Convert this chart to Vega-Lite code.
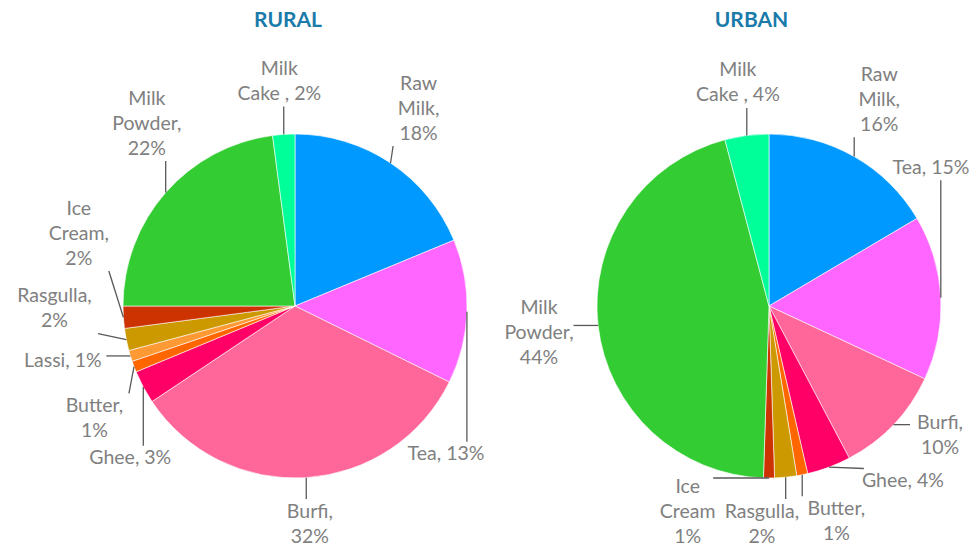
{
  "$schema": "https://vega.github.io/schema/vega-lite/v6.json",
  "padding": {"top": 10, "left": 0, "right": 0, "bottom": 0},
  "background": "white",
  "spacing": 0,
  "bounds": "flush",
  "config": {"view": {"stroke": null}, "title": {"font": "Lato", "fontSize": 21, "fontWeight": "bold", "color": "#1A7BAA", "anchor": "middle", "offset": 9}},
  "datasets": {
    "shares": [
      {"area": "Rural", "item": "Raw Milk", "pct": 18, "label": "Raw\nMilk,\n18%"},
      {"area": "Rural", "item": "Tea", "pct": 13, "label": "Tea, 13%"},
      {"area": "Rural", "item": "Burfi", "pct": 32, "label": "Burfi,\n32%"},
      {"area": "Rural", "item": "Ghee", "pct": 3, "label": "Ghee, 3%"},
      {"area": "Rural", "item": "Butter", "pct": 1, "label": "Butter,\n1%"},
      {"area": "Rural", "item": "Lassi", "pct": 1, "label": "Lassi, 1%"},
      {"area": "Rural", "item": "Rasgulla", "pct": 2, "label": "Rasgulla,\n2%"},
      {"area": "Rural", "item": "Ice Cream", "pct": 2, "label": "Ice\nCream,\n2%"},
      {"area": "Rural", "item": "Milk Powder", "pct": 22, "label": "Milk\nPowder,\n22%"},
      {"area": "Rural", "item": "Milk Cake", "pct": 2, "label": "Milk\nCake , 2%"},
      {"area": "Urban", "item": "Raw Milk", "pct": 16, "label": "Raw\nMilk,\n16%"},
      {"area": "Urban", "item": "Tea", "pct": 15, "label": "Tea, 15%"},
      {"area": "Urban", "item": "Burfi", "pct": 10, "label": "Burfi,\n10%"},
      {"area": "Urban", "item": "Ghee", "pct": 4, "label": "Ghee, 4%"},
      {"area": "Urban", "item": "Butter", "pct": 1, "label": "Butter,\n1%"},
      {"area": "Urban", "item": "Rasgulla", "pct": 2, "label": "Rasgulla,\n2%"},
      {"area": "Urban", "item": "Ice Cream", "pct": 1, "label": "Ice\nCream\n1%"},
      {"area": "Urban", "item": "Milk Powder", "pct": 44, "label": "Milk\nPowder,\n44%"},
      {"area": "Urban", "item": "Milk Cake", "pct": 4, "label": "Milk\nCake , 4%"}
    ]
  },
  "hconcat": [
    {
      "width": 484,
      "height": 510,
      "title": {"text": "RURAL", "dx": 46},
      "data": {"name": "shares"},
      "transform": [
        {"filter": "datum.area == 'Rural'"},
        {"window": [{"op": "row_number", "as": "idx"}]},
        {"joinaggregate": [{"op": "sum", "field": "pct", "as": "tot"}]},
        {"window": [{"op": "sum", "field": "pct", "as": "cum"}], "sort": [{"field": "idx"}], "frame": [null, 0]},
        {"calculate": "(datum.cum - datum.pct) / datum.tot", "as": "f0"},
        {"calculate": "datum.cum / datum.tot", "as": "f1"},
        {"calculate": "PI * (datum.f0 + datum.f1)", "as": "mid"},
        {"calculate": "split(datum.label, '\\n')", "as": "parts"},
        {"calculate": "length(datum.parts)", "as": "nl"},
        {"calculate": "datum.nl * 25", "as": "h"},
        {"calculate": "9 * max(length(datum.parts[0]), datum.nl > 1 ? length(datum.parts[1]) : 0, datum.nl > 2 ? length(datum.parts[2]) : 0)", "as": "w"},
        {"calculate": "abs(cos(datum.mid)) * datum.w * 0.9 + abs(sin(datum.mid)) * datum.h", "as": "ext"},
        {"window": [{"op": "lag", "field": "ext", "as": "pext"}], "sort": [{"field": "idx"}]},
        {"calculate": "datum.idx == 1 ? 0 : ((datum.pext + datum.ext) / 2 + 5) / 235", "as": "gap"},
        {"window": [{"op": "sum", "field": "gap", "as": "S"}], "sort": [{"field": "idx"}], "frame": [null, 0]},
        {"calculate": "datum.mid - datum.S", "as": "t"},
        {"window": [{"op": "max", "field": "t", "as": "fm"}], "sort": [{"field": "idx"}], "frame": [null, 0]},
        {"window": [{"op": "min", "field": "t", "as": "bm"}], "sort": [{"field": "idx"}], "frame": [0, null]},
        {"calculate": "datum.S + 0.55 * datum.fm + 0.45 * datum.bm", "as": "a"},
        {"calculate": "200 * sin(datum.a) + sin(datum.a) * datum.w / 2", "as": "bx"},
        {"calculate": "200 * cos(datum.a) + cos(datum.a) * datum.h / 2", "as": "by"},
        {"calculate": "clamp(datum.bx, -295 + datum.w / 2 + 2, 189 - datum.w / 2 - 2)", "as": "cx1"},
        {"calculate": "max(0, abs(datum.cx1) - datum.w / 2)", "as": "dxn"},
        {"calculate": "max(0, abs(datum.by) - datum.h / 2)", "as": "dyn"},
        {"calculate": "datum.dxn * datum.dxn + datum.dyn * datum.dyn < 178 * 178 ? (datum.by < 0 ? -1 : 1) * (sqrt(178 * 178 - datum.dxn * datum.dxn) + datum.h / 2) : datum.by", "as": "cy1"},
        {"calculate": "clamp(datum.cy1, -244 + datum.h / 2 + 1, 266 - datum.h / 2 - 1)", "as": "cy"},
        {"calculate": "max(0, abs(datum.cy) - datum.h / 2)", "as": "dyn2"},
        {"calculate": "datum.dxn * datum.dxn + datum.dyn2 * datum.dyn2 < 178 * 178 ? (datum.cx1 < 0 ? -1 : 1) * (sqrt(178 * 178 - datum.dyn2 * datum.dyn2) + datum.w / 2) : datum.cx1", "as": "cx"},
        {"calculate": "datum.cy + (datum.nl - 1) * 12.5", "as": "ty"},
        {"calculate": "172 * sin(datum.mid)", "as": "x0"},
        {"calculate": "172 * cos(datum.mid)", "as": "y0"},
        {"calculate": "clamp(datum.x0, datum.cx - datum.w / 2 - 3, datum.cx + datum.w / 2 + 3)", "as": "x1"},
        {"calculate": "clamp(datum.y0, datum.cy - datum.h / 2, datum.cy + datum.h / 2)", "as": "y1"}
      ],
      "layer": [
        {
          "mark": {"type": "arc", "outerRadius": 172, "stroke": "white", "strokeWidth": 0.6},
          "encoding": {
            "theta": {"field": "f0", "type": "quantitative", "scale": {"domain": [0, 1], "range": [0, 6.283185307]}},
            "theta2": {"field": "f1"},
            "color": {"field": "item", "type": "nominal", "legend": null,
              "scale": {"domain": ["Raw Milk", "Tea", "Burfi", "Ghee", "Butter", "Lassi", "Rasgulla", "Ice Cream", "Milk Powder", "Milk Cake"],
                        "range": ["#0099FF", "#FF66FF", "#FF6699", "#FF0066", "#FF6600", "#FF9933", "#CC9900", "#CC3300", "#33CC33", "#00FF99"]}},
            "x": {"datum": 0, "type": "quantitative", "scale": {"domain": [-295, 189], "nice": false, "zero": false}, "axis": null},
            "y": {"datum": 0, "type": "quantitative", "scale": {"domain": [-244, 266], "nice": false, "zero": false}, "axis": null}
          }
        },
        {
          "mark": {"type": "rule", "color": "#595959", "strokeWidth": 1.3},
          "encoding": {
            "x": {"field": "x0", "type": "quantitative"},
            "y": {"field": "y0", "type": "quantitative"},
            "x2": {"field": "x1"},
            "y2": {"field": "y1"}
          }
        },
        {
          "mark": {"type": "text", "font": "Lato", "fontSize": 19.5, "color": "#808080", "lineBreak": "\n", "lineHeight": 25, "align": "center", "baseline": "middle"},
          "encoding": {
            "x": {"field": "cx", "type": "quantitative"},
            "y": {"field": "ty", "type": "quantitative"},
            "text": {"field": "label"}
          }
        }
      ]
    },
    {
      "width": 485,
      "height": 510,
      "title": {"text": "URBAN", "dx": 25},
      "data": {"name": "shares"},
      "transform": [
        {"filter": "datum.area == 'Urban'"},
        {"window": [{"op": "row_number", "as": "idx"}]},
        {"joinaggregate": [{"op": "sum", "field": "pct", "as": "tot"}]},
        {"window": [{"op": "sum", "field": "pct", "as": "cum"}], "sort": [{"field": "idx"}], "frame": [null, 0]},
        {"calculate": "(datum.cum - datum.pct) / datum.tot", "as": "f0"},
        {"calculate": "datum.cum / datum.tot", "as": "f1"},
        {"calculate": "PI * (datum.f0 + datum.f1)", "as": "mid"},
        {"calculate": "split(datum.label, '\\n')", "as": "parts"},
        {"calculate": "length(datum.parts)", "as": "nl"},
        {"calculate": "datum.nl * 25", "as": "h"},
        {"calculate": "9 * max(length(datum.parts[0]), datum.nl > 1 ? length(datum.parts[1]) : 0, datum.nl > 2 ? length(datum.parts[2]) : 0)", "as": "w"},
        {"calculate": "abs(cos(datum.mid)) * datum.w * 0.9 + abs(sin(datum.mid)) * datum.h", "as": "ext"},
        {"window": [{"op": "lag", "field": "ext", "as": "pext"}], "sort": [{"field": "idx"}]},
        {"calculate": "datum.idx == 1 ? 0 : ((datum.pext + datum.ext) / 2 + 5) / 235", "as": "gap"},
        {"window": [{"op": "sum", "field": "gap", "as": "S"}], "sort": [{"field": "idx"}], "frame": [null, 0]},
        {"calculate": "datum.mid - datum.S", "as": "t"},
        {"window": [{"op": "max", "field": "t", "as": "fm"}], "sort": [{"field": "idx"}], "frame": [null, 0]},
        {"window": [{"op": "min", "field": "t", "as": "bm"}], "sort": [{"field": "idx"}], "frame": [0, null]},
        {"calculate": "datum.S + 0.55 * datum.fm + 0.45 * datum.bm", "as": "a"},
        {"calculate": "200 * sin(datum.a) + sin(datum.a) * datum.w / 2", "as": "bx"},
        {"calculate": "200 * cos(datum.a) + cos(datum.a) * datum.h / 2", "as": "by"},
        {"calculate": "clamp(datum.bx, -285 + datum.w / 2 + 2, 200 - datum.w / 2 - 2)", "as": "cx1"},
        {"calculate": "max(0, abs(datum.cx1) - datum.w / 2)", "as": "dxn"},
        {"calculate": "max(0, abs(datum.by) - datum.h / 2)", "as": "dyn"},
        {"calculate": "datum.dxn * datum.dxn + datum.dyn * datum.dyn < 178 * 178 ? (datum.by < 0 ? -1 : 1) * (sqrt(178 * 178 - datum.dxn * datum.dxn) + datum.h / 2) : datum.by", "as": "cy1"},
        {"calculate": "clamp(datum.cy1, -244 + datum.h / 2 + 1, 266 - datum.h / 2 - 1)", "as": "cy"},
        {"calculate": "max(0, abs(datum.cy) - datum.h / 2)", "as": "dyn2"},
        {"calculate": "datum.dxn * datum.dxn + datum.dyn2 * datum.dyn2 < 178 * 178 ? (datum.cx1 < 0 ? -1 : 1) * (sqrt(178 * 178 - datum.dyn2 * datum.dyn2) + datum.w / 2) : datum.cx1", "as": "cx"},
        {"calculate": "datum.cy + (datum.nl - 1) * 12.5", "as": "ty"},
        {"calculate": "172 * sin(datum.mid)", "as": "x0"},
        {"calculate": "172 * cos(datum.mid)", "as": "y0"},
        {"calculate": "clamp(datum.x0, datum.cx - datum.w / 2 - 3, datum.cx + datum.w / 2 + 3)", "as": "x1"},
        {"calculate": "clamp(datum.y0, datum.cy - datum.h / 2, datum.cy + datum.h / 2)", "as": "y1"}
      ],
      "layer": [
        {
          "mark": {"type": "arc", "outerRadius": 172, "stroke": "white", "strokeWidth": 0.6},
          "encoding": {
            "theta": {"field": "f0", "type": "quantitative", "scale": {"domain": [0, 1], "range": [0, 6.283185307]}},
            "theta2": {"field": "f1"},
            "color": {"field": "item", "type": "nominal", "legend": null,
              "scale": {"domain": ["Raw Milk", "Tea", "Burfi", "Ghee", "Butter", "Lassi", "Rasgulla", "Ice Cream", "Milk Powder", "Milk Cake"],
                        "range": ["#0099FF", "#FF66FF", "#FF6699", "#FF0066", "#FF6600", "#FF9933", "#CC9900", "#CC3300", "#33CC33", "#00FF99"]}},
            "x": {"datum": 0, "type": "quantitative", "scale": {"domain": [-285, 200], "nice": false, "zero": false}, "axis": null},
            "y": {"datum": 0, "type": "quantitative", "scale": {"domain": [-244, 266], "nice": false, "zero": false}, "axis": null}
          }
        },
        {
          "mark": {"type": "rule", "color": "#595959", "strokeWidth": 1.3},
          "encoding": {
            "x": {"field": "x0", "type": "quantitative"},
            "y": {"field": "y0", "type": "quantitative"},
            "x2": {"field": "x1"},
            "y2": {"field": "y1"}
          }
        },
        {
          "mark": {"type": "text", "font": "Lato", "fontSize": 19.5, "color": "#808080", "lineBreak": "\n", "lineHeight": 25, "align": "center", "baseline": "middle"},
          "encoding": {
            "x": {"field": "cx", "type": "quantitative"},
            "y": {"field": "ty", "type": "quantitative"},
            "text": {"field": "label"}
          }
        }
      ]
    }
  ]
}
